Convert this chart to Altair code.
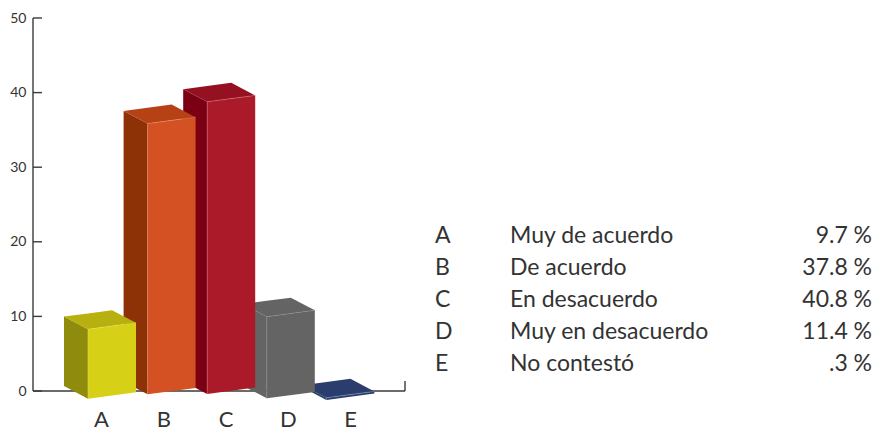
import altair as alt
import pandas as pd

categories = ["A", "B", "C", "D", "E"]
labels = ["Muy de acuerdo", "De acuerdo", "En desacuerdo", "Muy en desacuerdo", "No contestó"]
values = [9.7, 37.8, 40.8, 11.4, 0.3]
pct_labels = ["9.7\u202f%", "37.8\u202f%", "40.8\u202f%", "11.4\u202f%", ".3\u202f%"]
ticks = [0, 10, 20, 30, 40, 50]
front_colors = ["#d6d016", "#d35122", "#ab1a28", "#646464", "#2a3d6c"]
side_colors = ["#8e8b0d", "#8d3206", "#7c0014", "#646464", "#2a3d6c"]
top_colors = ["#b8b00e", "#b64115", "#951020", "#646464", "#2a3d6c"]
edge_colors = ["#e4df60", "#e58a63", "#d06a74", "#8f8f8f", "#7f90b8"]
floor_shift = [-1.03, -0.44, -0.40, -0.98, -1.2]

PX_X = 62.25
PX_Y = 7.46
W, H = 865, 424
X0, Y0 = 93, 383  # plot pixel of category A's tick / of value 0
def ux(page): return (page - 8 - X0) / PX_X + 1
def vy(page): return (Y0 - (page - 8)) / PX_Y

x_scale = alt.Scale(domain=[ux(8), ux(8 + W)], nice=False, zero=False)
y_scale = alt.Scale(domain=[vy(8 + H), vy(8)], nice=False, zero=False)
x_axis = alt.Axis(
    values=[1, 2, 3, 4, 5], labelExpr="['A','B','C','D','E'][datum.value-1]", title=None,
    domain=False, ticks=False, grid=False, offset=-(8 + H - 391), labelPadding=18,
    labelFont="Lato", labelFontSize=22, labelColor="#333333", labelFlush=False, labelOverlap=False)
y_axis = alt.Axis(
    values=ticks, title=None, domain=False, ticks=False, grid=False, offset=-25, labelPadding=7,
    labelFont="Lato", labelFontSize=14, labelColor="#333333")

SHRINK = 0.96
DX, DY = 24 / PX_X, 12.6 / PX_Y
WX, WY = 48 / PX_X, 6.4 / PX_Y
FIRST = ux(88)
STEP = 59.6 / PX_X


def X(f): return alt.X(f, scale=x_scale, axis=x_axis)
def Y(f, **kw): return alt.Y(f, scale=y_scale, axis=y_axis, **kw)


def area(points, color):
    df = pd.DataFrame(points, columns=["x", "y", "y2"])
    return alt.Chart(df).mark_area(color=color, opacity=1, interpolate="linear").encode(
        x=X("x:Q"), y=Y("y:Q", stack=None), y2="y2:Q")


def edge(points, color):
    df = pd.DataFrame(points, columns=["x", "y"])
    df["o"] = range(len(df))
    return alt.Chart(df).mark_line(color=color, strokeWidth=0.6, opacity=0.9).encode(
        x=X("x:Q"), y=Y("y:Q"), order="o:Q")


def rule(x1, x2, y1, y2):
    df = pd.DataFrame([{"x": x1, "x2": x2, "y": y1, "y2": y2}])
    return alt.Chart(df).mark_rule(color="#3a3a3a", strokeWidth=1.4).encode(
        x=X("x:Q"), x2="x2:Q", y=Y("y:Q"), y2="y2:Q")


layers = [
    alt.Chart(pd.DataFrame({"t": ticks, "x": [ux(33)] * len(ticks), "x2": [ux(42)] * len(ticks)}))
    .mark_rule(color="#3a3a3a", strokeWidth=1.4)
    .encode(x=X("x:Q"), x2="x2:Q", y=Y("t:Q")),
    rule(ux(33), ux(33), 0, 50),
    rule(ux(33), ux(405), 0, 0),
    rule(ux(405), ux(405), 0, vy(381)),
]

for i in range(4, -1, -1):
    v = values[i] * SHRINK
    fx = FIRST + STEP * i
    base = floor_shift[i]
    bx = fx - DX
    layers.append(area([(bx, base + DY + v, base + DY), (fx, base + v, base)], side_colors[i]))
    t = base + v
    bl = (bx, t + DY)
    fl = (fx, t)
    br = (bx + WX, t + DY + WY)
    fr = (fx + WX, t + WY)
    upper_at_fl = bl[1] + (br[1] - bl[1]) * (fl[0] - bl[0]) / (br[0] - bl[0])
    lower_at_br = fl[1] + (fr[1] - fl[1]) * (br[0] - fl[0]) / (fr[0] - fl[0])
    layers.append(area([
        (bl[0], bl[1], bl[1]),
        (fl[0], upper_at_fl, fl[1]),
        (br[0], br[1], lower_at_br),
        (fr[0], fr[1], fr[1]),
    ], top_colors[i]))
    layers.append(area([(fx, t, base), (fx + WX, t + WY, base + WY)], front_colors[i]))
    layers.append(edge([(fx, base), fl, fr], edge_colors[i]))

rows = pd.DataFrame({
    "cat": categories, "label": labels, "pct": pct_labels,
    "y": [vy(236 + 32 * i) for i in range(5)],
    "xa": [ux(435)] * 5, "xb": [ux(510)] * 5, "xc": [ux(872)] * 5,
})
for col, xf, align in (("cat", "xa", "left"), ("label", "xb", "left"), ("pct", "xc", "right")):
    layers.append(
        alt.Chart(rows).mark_text(font="Lato", fontSize=23, color="#333333", align=align, baseline="middle").encode(
            x=X(f"{xf}:Q"), y=Y("y:Q"), text=f"{col}:N")
    )

chart = alt.layer(*layers).properties(
    width=W, height=H, padding=0, autosize=alt.AutoSizeParams(type="none"), background="white"
).configure_view(stroke=None)

chart.save("out.html", embed_options={"renderer": "svg", "actions": False})
